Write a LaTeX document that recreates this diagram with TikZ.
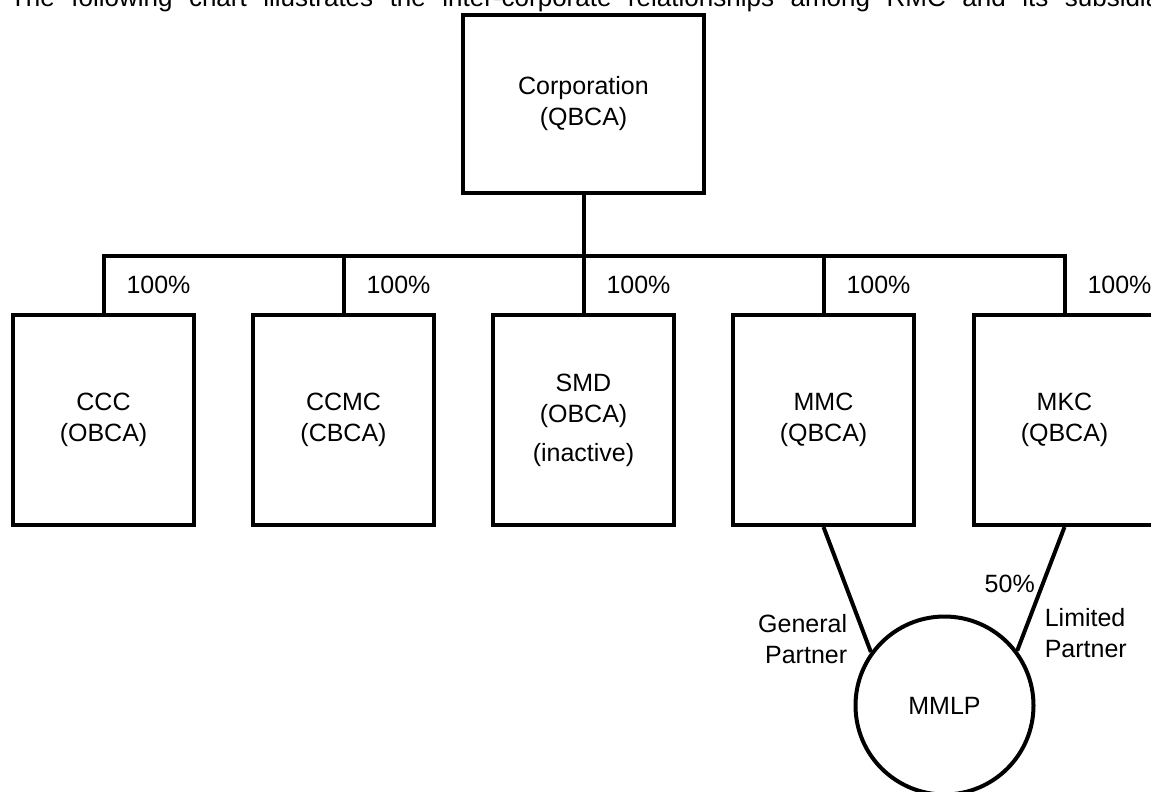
\documentclass[tikz,border=0pt]{standalone}
\usepackage{fontspec}
\setmainfont{Liberation Sans}

\begin{document}
\begin{tikzpicture}[x=1pt,y=-1pt,line width=4pt,
  font=\fontsize{25}{31}\selectfont,
  co node/.style={rectangle,draw,align=center,minimum width=181pt,minimum height=210pt},
  pct/.style={right=19pt,inner sep=2pt}]

  \clip (0,0) rectangle (1151,792);
  \useasboundingbox (0,0) rectangle (1151,792);

  \node[anchor=base west,inner sep=0pt,font=\fontsize{26}{31}\selectfont] (0) at (8,7)
    {\makebox[1055pt][s]{The following chart illustrates the inter-corporate relationships among RMC and its\ }subsidiaries};

  \node[co node,minimum width=241pt,minimum height=178pt] (1) at (583.5,104) {Corporation\\(QBCA)};
  \node[co node] (2) at (103.5,420) {CCC\\(OBCA)};
  \node[co node] (3) at (343.5,420) {CCMC\\(CBCA)};
  \node[co node] (4) at (583.5,420) {SMD\\(OBCA)\\[8pt](inactive)};
  \node[co node] (5) at (823.5,420) {MMC\\(QBCA)};
  \node[co node] (6) at (1064.5,420) {MKC\\(QBCA)};
  \node[circle,draw,minimum size=178pt] (7) at (944.5,705.5) {MMLP};

  \coordinate (bus) at (0,256);
  \draw (1) -- (1 |- bus);
  \draw[line cap=rect] (2.north |- bus) -- (6.north |- bus);
  \foreach \n in {2,...,6}
    \draw (\n.north |- bus) -- node[pct] {100\%} (\n);

  \path[every node/.style={inner sep=2pt}]
    (5.south) edge node[pos=.9,left=15pt,align=right] {General\\Partner} (7.144)
    (6.south) edge node[pos=.46,left=4pt] {50\%}
                   node[pos=.86,right=17pt,align=left] {Limited\\Partner} (7.37);

\end{tikzpicture}
\end{document}
